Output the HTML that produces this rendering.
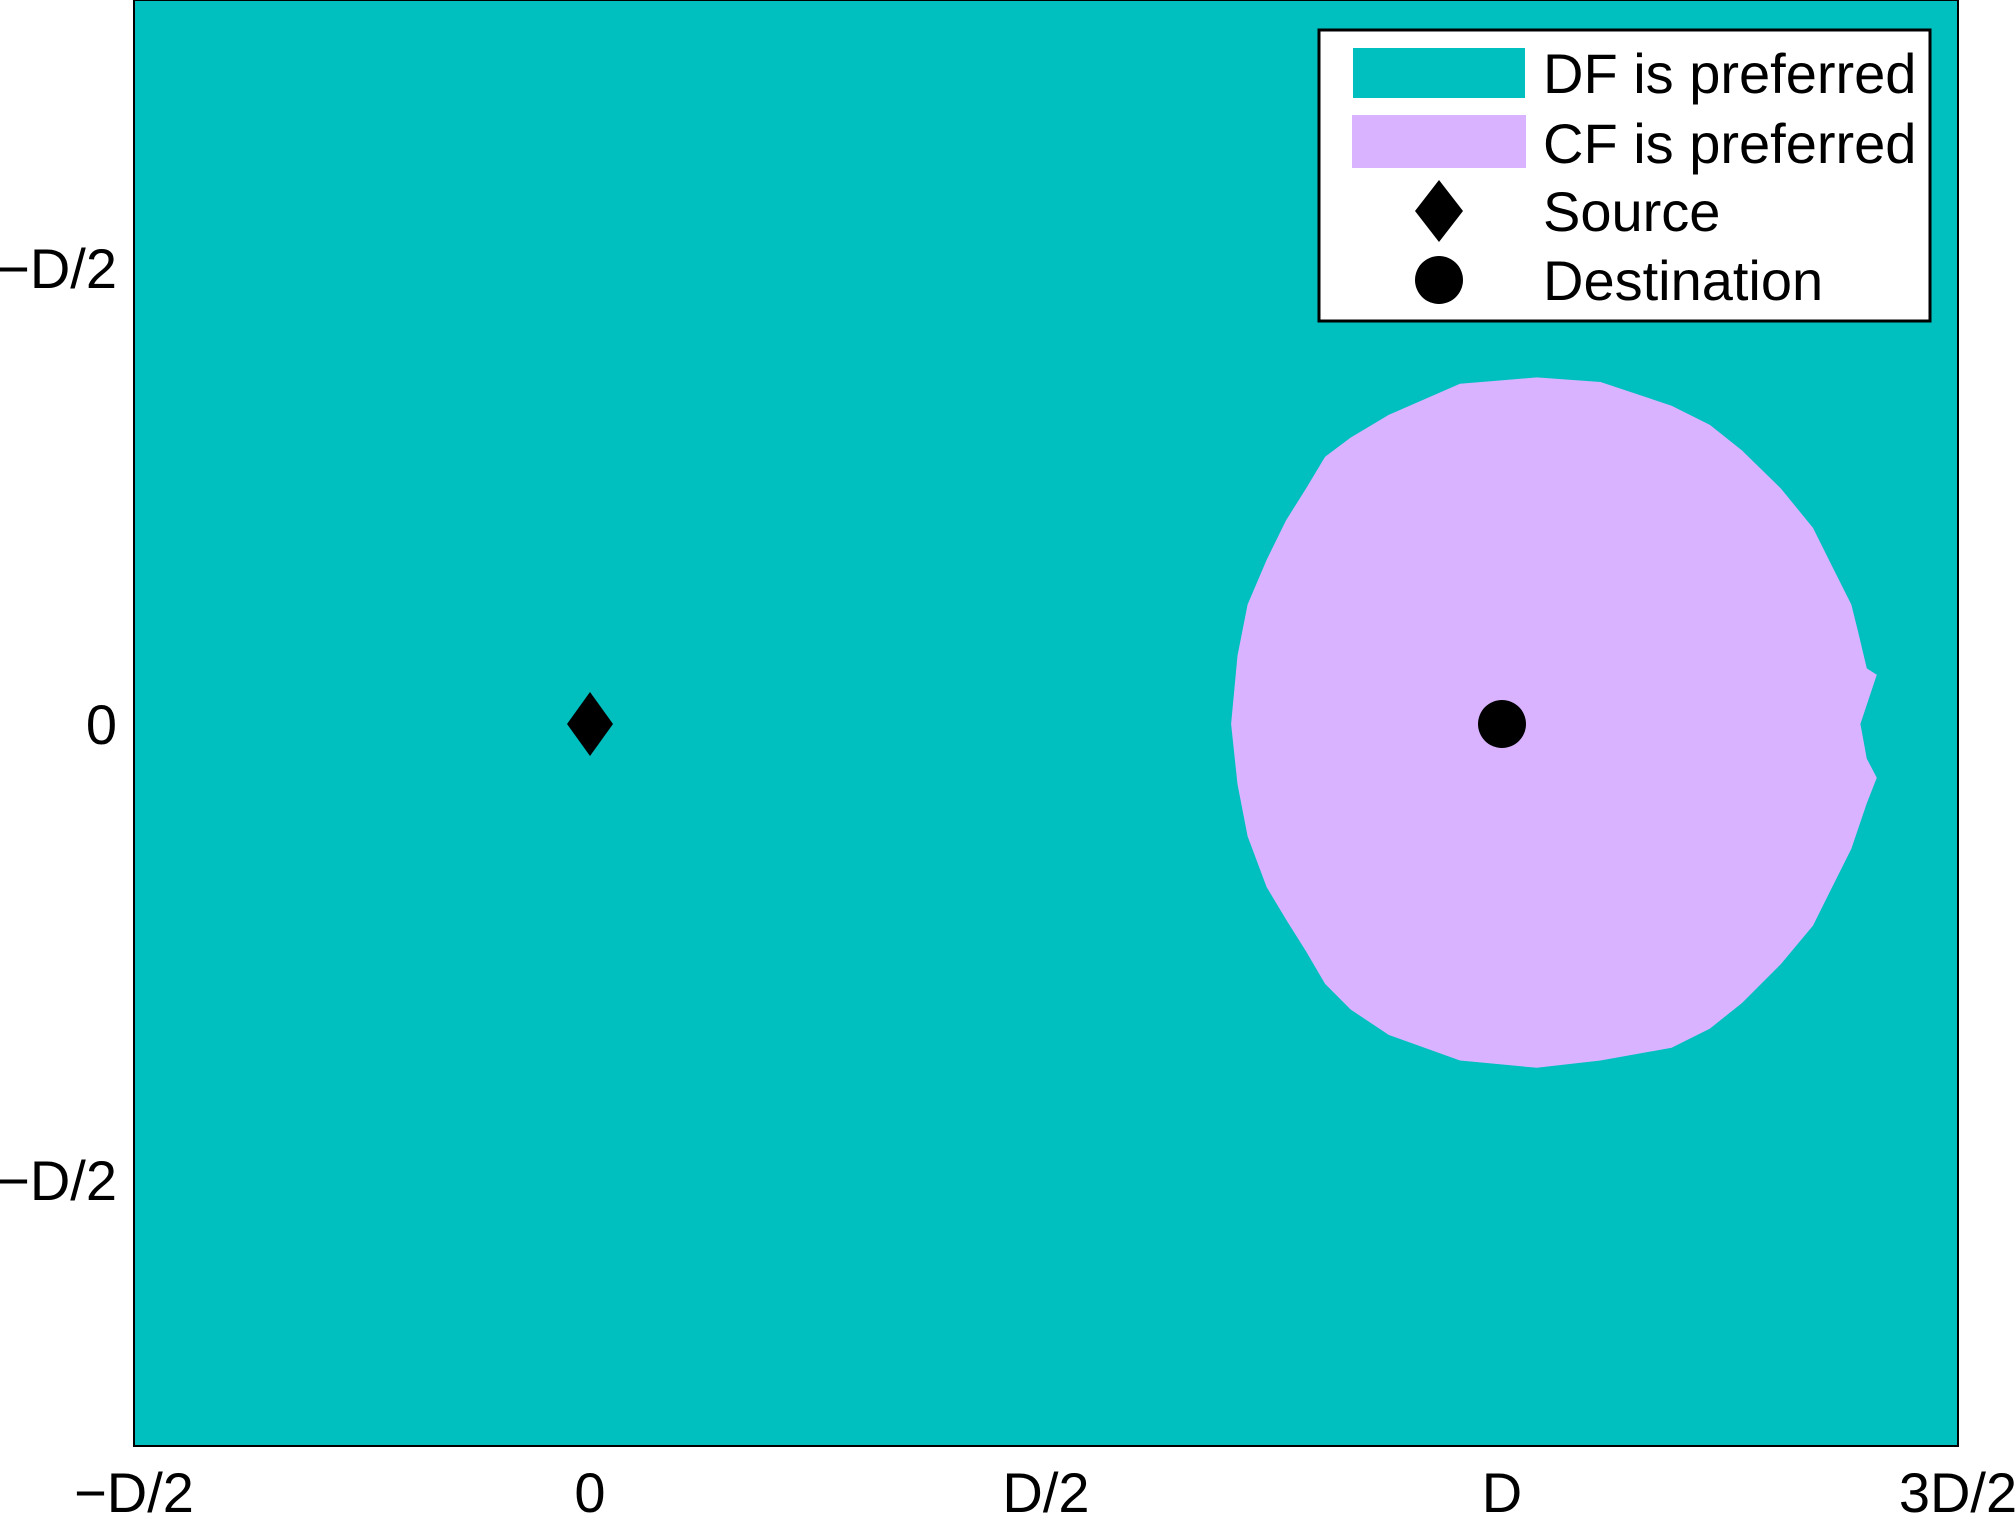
<!DOCTYPE html>
<html><head><meta charset="utf-8"><style>
html,body{margin:0;padding:0;background:#fff;}
svg{display:block;}
text{font-family:"Liberation Sans",sans-serif;fill:#000;}
</style></head><body>
<svg id="chart" width="2016" height="1516" viewBox="0 0 2016 1516"></svg>
<script>
const xTickValues=[-0.5,0,0.5,1,1.5];
const xTickLabels=["\u2212D/2","0","D/2","D","3D/2"];
const yTickValues=[0.5,0,-0.5];
const yTickLabels=["\u2212D/2","0","\u2212D/2"];
const regionX=[1.038,1.108,1.186,1.228,1.263,1.306,1.341,1.362,1.383,1.390,1.400,1.411,1.400,1.393,1.400,1.411,1.400,1.383,1.362,1.341,1.306,1.263,1.228,1.186,1.108,1.038,0.954,0.876,0.834,0.806,0.785,0.763,0.742,0.721,0.710,0.703,0.710,0.721,0.742,0.763,0.785,0.806,0.834,0.876,0.954];
const regionY=[0.380,0.375,0.349,0.328,0.300,0.258,0.215,0.173,0.131,0.103,0.061,0.054,0.021,0,-0.038,-0.059,-0.087,-0.137,-0.179,-0.221,-0.263,-0.306,-0.334,-0.355,-0.369,-0.377,-0.369,-0.341,-0.313,-0.285,-0.249,-0.214,-0.179,-0.123,-0.066,0,0.075,0.131,0.180,0.223,0.258,0.293,0.314,0.339,0.373];
const sourcePoint=[0,0];
const destPoint=[1,0];

const NS="http://www.w3.org/2000/svg";
const svg=document.getElementById('chart');
const L=134,R=1958,T=0,B=1446;
const xMin=-0.5,xMax=1.5,y0px=724,pxPerD=(R-L)/(xMax-xMin);
function sx(v){return L+(v-xMin)*pxPerD;}
function sy(v){return y0px-v*pxPerD;}
function mk(tag,attrs){const e=document.createElementNS(NS,tag);for(const k in attrs)e.setAttribute(k,attrs[k]);return e;}

const bg=mk('rect',{x:L,y:T,width:R-L,height:B-T,fill:'#00BFBF',stroke:'#000','stroke-width':2});


svg.appendChild(bg);

const pts=regionX.map((x,i)=>sx(x).toFixed(1)+','+sy(regionY[i]).toFixed(1)).join(' ');
const poly=mk('polygon',{points:pts,fill:'#D9B3FF'});


svg.appendChild(poly);

const scx=sx(sourcePoint[0]),scy=sy(sourcePoint[1]);
const dia=mk('polygon',{points:`${scx},${scy-32} ${scx+23},${scy} ${scx},${scy+32} ${scx-23},${scy}`,fill:'#000'});


svg.appendChild(dia);

const circ=mk('circle',{cx:sx(destPoint[0]),cy:sy(destPoint[1]),r:24,fill:'#000'});


svg.appendChild(circ);

xTickValues.forEach((v,i)=>{
  const t=mk('text',{x:sx(v),y:1512,'font-size':56,'text-anchor':'middle'});
  t.textContent=xTickLabels[i];
  
  
  svg.appendChild(t);
});
yTickValues.forEach((v,i)=>{
  const t=mk('text',{x:117,y:sy(v)+20,'font-size':56,'text-anchor':'end'});
  t.textContent=yTickLabels[i];
  
  
  svg.appendChild(t);
});

const lg=mk('g',{});


svg.appendChild(lg);
const lbox=mk('rect',{x:1319,y:30,width:611,height:291,fill:'#fff',stroke:'#000','stroke-width':3});


lg.appendChild(lbox);
const rows=[73,143,211,280];
const labels=["DF is preferred","CF is preferred","Source","Destination"];
const s1=mk('rect',{x:1353,y:48,width:172,height:50,fill:'#00BFBF'});


lg.appendChild(s1);
const s2=mk('rect',{x:1352,y:115,width:174,height:53,fill:'#D9B3FF'});


lg.appendChild(s2);
const lx=1439,ly=rows[2];
const s3=mk('polygon',{points:`${lx},${ly-31} ${lx+24},${ly} ${lx},${ly+31} ${lx-24},${ly}`,fill:'#000'});


lg.appendChild(s3);
const s4=mk('ellipse',{cx:1439,cy:rows[3],rx:24,ry:24,fill:'#000'});


lg.appendChild(s4);
labels.forEach((s,i)=>{
  const t=mk('text',{x:1543,y:rows[i]+20,'font-size':56});
  t.textContent=s;
  
  
  lg.appendChild(t);
});
</script>
</body></html>
